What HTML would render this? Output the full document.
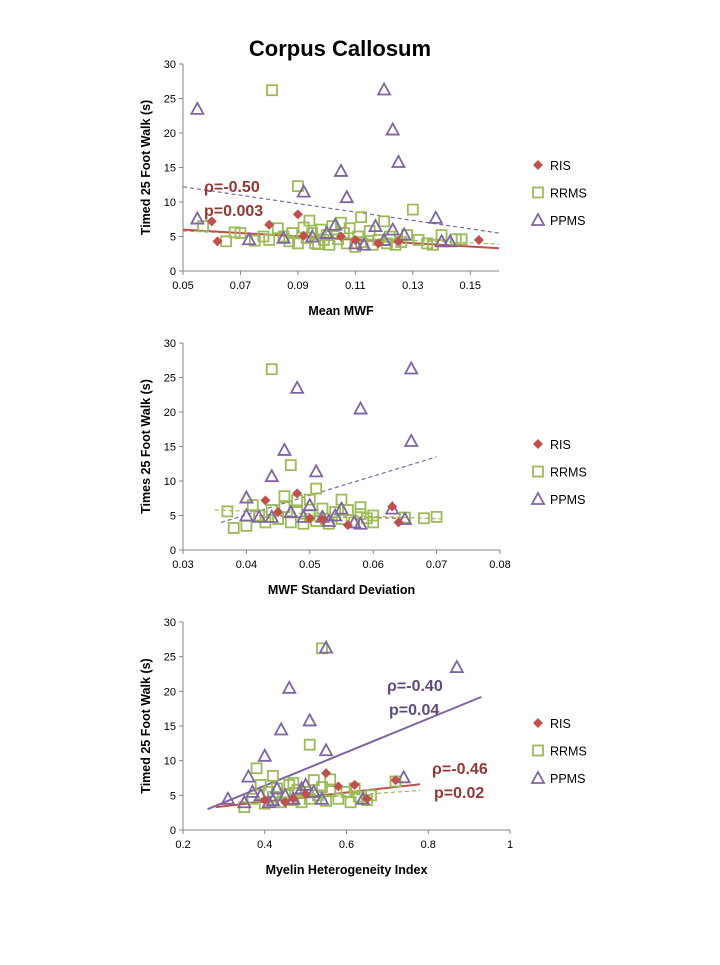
<!DOCTYPE html>
<html><head><meta charset="utf-8"><style>
body{margin:0;background:#fff;font-family:"Liberation Sans",sans-serif}
svg text{font-family:"Liberation Sans",sans-serif}
</style></head><body>
<svg id="s" width="720" height="960"></svg>
<script>
// Panel 1 data: Mean MWF
const p1RIS=[[0.060,7.2],[0.062,4.3],[0.080,6.7],[0.090,8.2],[0.092,5.1],[0.105,5.0],[0.110,4.5],[0.118,4.0],[0.125,4.3],[0.153,4.5]];
const p1PPMS=[[0.055,23.5],[0.055,7.6],[0.073,4.6],[0.085,4.8],[0.092,11.5],[0.100,5.5],[0.105,14.5],[0.107,10.7],[0.110,4.0],[0.117,6.5],[0.120,26.3],[0.123,20.5],[0.125,15.8],[0.120,4.5],[0.123,6.0],[0.127,5.3],[0.138,7.7],[0.140,4.3],[0.143,4.3],[0.103,6.7],[0.095,5.0],[0.113,3.8]];
const p1RRMS=[[0.081,26.2],[0.090,12.3],[0.130,8.9],[0.112,7.8],[0.057,6.5],[0.065,4.3],[0.068,5.6],[0.070,5.5],[0.075,4.4],[0.078,5.0],[0.080,4.5],[0.083,6.2],[0.085,5.0],[0.087,4.3],[0.088,5.5],[0.090,4.0],[0.092,6.3],[0.093,4.8],[0.095,5.5],[0.096,4.0],[0.098,6.0],[0.099,4.5],[0.100,5.2],[0.101,3.8],[0.102,6.5],[0.104,4.6],[0.105,7.0],[0.106,5.5],[0.107,4.0],[0.108,6.2],[0.110,3.5],[0.111,5.0],[0.112,4.2],[0.115,5.8],[0.116,3.8],[0.118,4.5],[0.120,7.2],[0.121,4.0],[0.122,5.0],[0.124,3.8],[0.126,4.2],[0.128,5.2],[0.132,4.5],[0.135,4.0],[0.137,3.8],[0.140,5.2],[0.145,4.6],[0.147,4.6],[0.094,7.3],[0.097,3.9]];
const p1Xticks=["0.05","0.07","0.09","0.11","0.13","0.15"];
// Panel 2 data: MWF SD
const p2RIS=[[0.043,7.2],[0.048,8.2],[0.063,6.3],[0.064,4.0],[0.056,3.6],[0.050,4.6],[0.045,5.5],[0.052,4.4]];
const p2PPMS=[[0.044,10.7],[0.046,14.5],[0.048,23.5],[0.051,11.4],[0.058,20.5],[0.066,26.3],[0.066,15.8],[0.040,7.6],[0.040,5.0],[0.042,4.8],[0.044,4.8],[0.047,5.5],[0.049,4.8],[0.050,6.5],[0.052,4.8],[0.054,5.0],[0.055,6.0],[0.057,4.0],[0.058,3.8],[0.063,6.0],[0.065,4.5],[0.053,4.2]];
const p2RRMS=[[0.044,26.2],[0.047,12.3],[0.051,8.9],[0.046,7.8],[0.037,5.6],[0.038,3.2],[0.040,3.5],[0.041,6.5],[0.042,5.0],[0.043,4.0],[0.044,5.8],[0.045,4.5],[0.046,6.2],[0.047,4.0],[0.048,5.5],[0.049,3.8],[0.050,7.3],[0.050,5.0],[0.051,4.2],[0.052,6.0],[0.053,3.8],[0.054,5.5],[0.055,4.5],[0.055,7.3],[0.056,5.8],[0.057,4.0],[0.058,5.2],[0.059,4.6],[0.060,5.0],[0.060,4.0],[0.065,4.7],[0.068,4.6],[0.070,4.8],[0.048,7.2],[0.058,6.2]];
const p2Xticks=["0.03","0.04","0.05","0.06","0.07","0.08"];
// Panel 3 data: MHI
const p3RIS=[[0.47,4.5],[0.50,5.2],[0.55,8.2],[0.58,6.3],[0.62,6.5],[0.65,4.5],[0.72,7.2],[0.45,4.0],[0.40,4.3]];
const p3PPMS=[[0.31,4.5],[0.36,7.7],[0.40,10.7],[0.44,14.5],[0.46,20.5],[0.51,15.8],[0.55,11.5],[0.55,26.3],[0.87,23.5],[0.74,7.6],[0.37,5.5],[0.39,5.0],[0.41,4.0],[0.43,6.0],[0.45,5.0],[0.47,4.5],[0.49,6.0],[0.50,6.5],[0.52,5.5],[0.54,4.5],[0.64,4.5],[0.42,4.3],[0.35,4.0]];
const p3RRMS=[[0.54,26.2],[0.51,12.3],[0.38,8.9],[0.42,7.8],[0.35,3.3],[0.37,4.5],[0.39,6.5],[0.40,3.8],[0.41,5.5],[0.42,4.8],[0.43,6.0],[0.44,4.0],[0.45,5.2],[0.46,6.5],[0.47,4.3],[0.48,5.8],[0.49,4.0],[0.50,5.5],[0.51,4.5],[0.52,7.2],[0.53,5.0],[0.54,6.2],[0.55,4.2],[0.56,5.6],[0.58,4.5],[0.60,5.5],[0.61,4.0],[0.62,6.0],[0.63,4.8],[0.65,4.3],[0.66,5.0],[0.56,7.3],[0.72,7.0],[0.47,6.8]];
const p3Xticks=["0.2","0.4","0.6","0.8","1"];
const yTicks=["0","5","10","15","20","25","30"];

const S=document.getElementById('s');const NS='http://www.w3.org/2000/svg';
function mk(t,a,p){const e=document.createElementNS(NS,t);for(const k in a)e.setAttribute(k,a[k]);(p||S).appendChild(e);return e;}
function txt(x,y,s,a,p){const e=mk('text',Object.assign({x:x,y:y},a),p);e.textContent=s;return e;}
const C={RIS:'#c0504d',RRMS:'#9bbb59',PPMS:'#8064a2'};
function marker(g,type,x,y){
 if(type==='RIS'){const e=mk('path',{d:`M${x} ${y-5}L${x+5} ${y}L${x} ${y+5}L${x-5} ${y}Z`,fill:C.RIS},g);return e;}
 if(type==='RRMS'){return mk('rect',{x:x-5,y:y-5,width:10,height:10,fill:'none',stroke:C.RRMS,'stroke-width':1.8},g);}
 return mk('path',{d:`M${x} ${y-6}L${x+6} ${y+5}L${x-6} ${y+5}Z`,fill:'none',stroke:C.PPMS,'stroke-width':1.8},g);
}
function panel(o){
 const g=mk('g',{});
 
 
 const X=v=>o.x0+(v-o.xmin)/(o.xmax-o.xmin)*(o.x1-o.x0);
 const Y=v=>o.y1-(v/30)*(o.y1-o.y0);
 mk('line',{x1:o.x0,y1:o.y0,x2:o.x0,y2:o.y1,stroke:'#868686'},g);
 mk('line',{x1:o.x0,y1:o.y1,x2:o.x1,y2:o.y1,stroke:'#868686'},g);
 yTicks.forEach(t=>{const y=Y(+t);mk('line',{x1:o.x0-4,y1:y,x2:o.x0,y2:y,stroke:'#868686'},g);
  const e=txt(o.x0-7,y+4,t,{'font-size':11,'text-anchor':'end',fill:'#000'},g);
  });
 o.xt.forEach(t=>{const x=X(+t);mk('line',{x1:x,y1:o.y1,x2:x,y2:o.y1+4,stroke:'#868686'},g);
  const e=txt(x,o.y1+18,t,{'font-size':11,'text-anchor':'middle',fill:'#000'},g);
  });
 const yt=txt(0,0,o.ytitle,{'font-size':12.5,'font-weight':'bold','text-anchor':'middle',transform:`translate(150,${(o.y0+o.y1)/2}) rotate(-90)`},g);
 
 const xt=txt((o.x0+o.x1)/2,o.y1+44,o.xtitle,{'font-size':12.5,'font-weight':'bold','text-anchor':'middle'},g);
 
 o.lines.forEach(l=>{const e=mk('line',{x1:X(l[0]),y1:Y(l[1]),x2:X(l[2]),y2:Y(l[3]),stroke:l[4],'stroke-width':l[5]?2:1.2,'stroke-dasharray':l[5]?'none':'4 3'},g);
  });
 [['RRMS',o.rr],['PPMS',o.pp],['RIS',o.ris]].forEach(([t,arr])=>arr.forEach(p=>{const m=marker(g,t,X(p[0]),Y(p[1]));
  }));
 ['RIS','RRMS','PPMS'].forEach((t,i)=>{const y=o.legY+i*27.5;const m=marker(g,t,538,y);
  
  const e=txt(550,y+5,t,{'font-size':12.5},g);});
 (o.notes||[]).forEach(n=>{const e=txt(n[0],n[1],n[2],{'font-size':16,'font-weight':'bold',fill:n[3]},g);
  });
}
const tt=txt(340,56,'Corpus Callosum',{'font-size':22,'font-weight':'bold','text-anchor':'middle'});

panel({name:'panel-mean-mwf',x0:183,x1:499,xmin:0.05,xmax:0.16,y0:64,y1:271,xt:p1Xticks,ytitle:'Timed 25 Foot Walk (s)',xtitle:'Mean MWF',
 ris:p1RIS,rr:p1RRMS,pp:p1PPMS,legY:165,
 lines:[[0.05,12.2,0.16,5.5,'#8064a2',0],[0.05,5.8,0.16,3.9,'#9bbb59',0],[0.05,6.0,0.16,3.3,'#c0504d',1]],
 notes:[[204,192,'ρ=-0.50','#953735'],[204,216,'p=0.003','#953735']]});
panel({name:'panel-mwf-sd',x0:183,x1:500,xmin:0.03,xmax:0.08,y0:343,y1:550,xt:p2Xticks,ytitle:'Times 25 Foot Walk (s)',xtitle:'MWF Standard Deviation',
 ris:p2RIS,rr:p2RRMS,pp:p2PPMS,legY:444,
 lines:[[0.036,4.0,0.070,13.5,'#8064a2',0],[0.035,5.8,0.071,4.5,'#9bbb59',0],[0.042,5.0,0.065,4.6,'#c0504d',0]]});
panel({name:'panel-mhi',x0:183,x1:510,xmin:0.2,xmax:1.0,y0:622,y1:830,xt:p3Xticks,ytitle:'Timed 25 Foot Walk (s)',xtitle:'Myelin Heterogeneity Index',
 ris:p3RIS,rr:p3RRMS,pp:p3PPMS,legY:723,
 lines:[[0.26,3.0,0.93,19.2,'#8064a2',1],[0.35,4.0,0.78,5.7,'#9bbb59',0],[0.28,3.3,0.78,6.6,'#c0504d',1]],
 notes:[[387,691,'ρ=-0.40','#604a7b'],[389,715,'p=0.04','#604a7b'],[432,774,'ρ=-0.46','#953735'],[434,798,'p=0.02','#953735']]});
</script>
</body></html>
